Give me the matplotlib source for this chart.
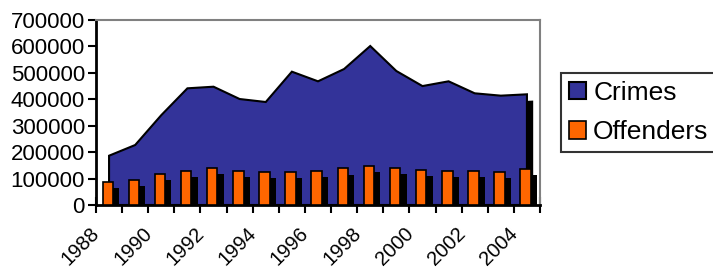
import matplotlib
matplotlib.use("Agg")
import matplotlib.pyplot as plt
import matplotlib.patheffects as pe
import matplotlib.transforms as mtransforms
import numpy as np

years = list(range(1988, 2005))
crimes = [186500, 227000, 340000, 441500, 447600, 401000, 389700, 504500,
          468000, 514600, 601600, 507000, 450000, 468000, 422600, 413700, 418800]
offenders = [88200, 94600, 118500, 128600, 140000, 128600, 126000, 126000,
             128600, 138700, 147600, 141300, 132400, 128600, 129800, 126000, 137400]
tick_years = [str(y) for y in range(1988, 2005, 2)]

plt.rcParams['font.family'] = ['Liberation Sans', 'DejaVu Sans']

fig = plt.figure(figsize=(7.13, 2.73), dpi=100)
ax = fig.add_axes([96/713, 1-205/273, (540-96)/713, (205-20)/273])

n = len(years)
x = np.arange(n)

shadow = [pe.SimplePatchShadow(offset=(4.5, -4.5), shadow_rgbFace='black', alpha=1.0), pe.Normal()]

area = ax.fill(np.concatenate([[x[0]], x, [x[-1]]]),
               np.concatenate([[0], crimes, [0]]),
               facecolor='#333399', edgecolor='black', linewidth=1.5, zorder=2,
               label='Crimes')[0]
area.set_path_effects(shadow)

bars = ax.bar(x - 0.05, offenders, width=0.4, color='#FF6600', edgecolor='black',
              linewidth=1.2, zorder=3, label='Offenders')
for b in bars:
    b.set_path_effects(shadow)

ax.set_xlim(-0.5, n - 0.5)
ax.set_ylim(0, 700000)
ax.set_yticks(np.arange(0, 700001, 100000))
ax.set_yticklabels([str(v) for v in range(0, 700001, 100000)], fontsize=16)
ax.tick_params(axis='y', direction='out', length=6, width=1.5, pad=2)

ax.set_xticks(np.arange(-0.5, n, 1), minor=True)
ax.tick_params(axis='x', which='minor', direction='inout', length=12, width=1.5)
ax.set_xticks(np.arange(0, n, 2))
ax.set_xticklabels(tick_years, fontsize=14.5, rotation=45, ha='right',
                   rotation_mode='anchor')
ax.tick_params(axis='x', which='major', length=0, pad=14)
off = mtransforms.ScaledTranslation(-19/100, 1/100, fig.dpi_scale_trans)
for lab in ax.get_xticklabels():
    lab.set_transform(lab.get_transform() + off)

for s in ['left', 'bottom']:
    ax.spines[s].set_color('black')
    ax.spines[s].set_linewidth(2)
for s in ['top', 'right']:
    ax.spines[s].set_color('#808080')
    ax.spines[s].set_linewidth(1.5)

leg = fig.legend(handles=[area, bars], labels=['Crimes', 'Offenders'],
                 loc='upper left', bbox_to_anchor=(561/713, 1-73/273),
                 fontsize=19, frameon=True, fancybox=False, shadow=False,
                 handlelength=0.65, handleheight=0.65, handletextpad=0.27,
                 labelspacing=0.58, borderpad=0.3, borderaxespad=0)
leg.get_frame().set_edgecolor('black')
leg.get_frame().set_linewidth(1.5)
for h in leg.legend_handles:
    h.set_path_effects([])

fig.savefig('out.png', dpi=100)
